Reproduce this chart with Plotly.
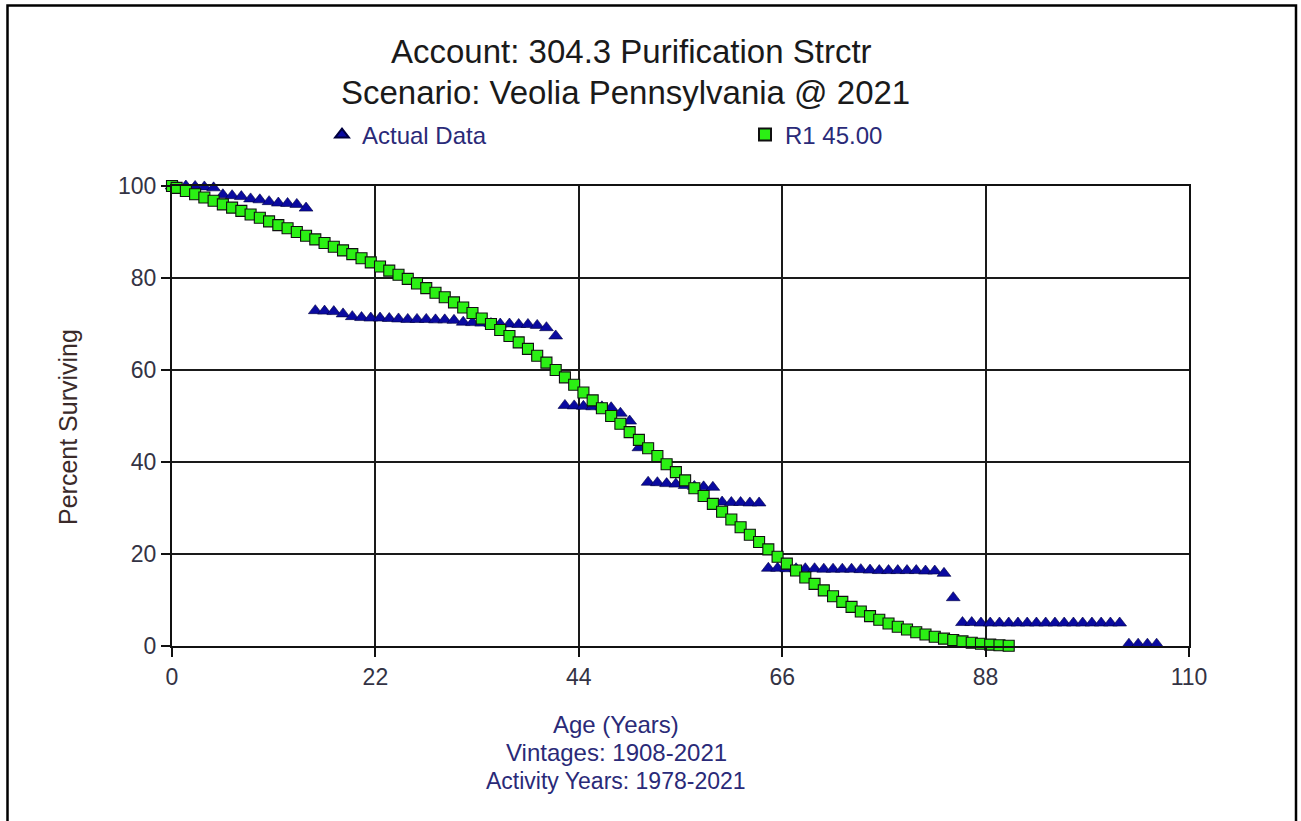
import plotly.graph_objects as go

# ---------------- data ----------------
actual_age = [0, 0.5, 1.5, 2.5, 3.5, 4.5, 5.5, 6.5, 7.5, 8.5, 9.5, 10.5, 11.5, 12.5, 13.5, 14.5,
              15.5, 16.5, 17.5, 18.5, 19.5, 20.5, 21.5, 22.5, 23.5, 24.5, 25.5, 26.5, 27.5, 28.5, 29.5, 30.5,
              31.5, 32.5, 33.5, 34.5, 35.5, 36.5, 37.5, 38.5, 39.5, 40.5, 41.5,
              42.5, 43.5, 44.5, 45.5, 46.5, 47.5, 48.5, 49.5, 50.5,
              51.5, 52.5, 53.5, 54.5, 55.5, 56.5, 57.5, 58.5,
              59.5, 60.5, 61.5, 62.5, 63.5,
              64.5, 65.5, 66.5, 67.5, 68.5, 69.5, 70.5, 71.5, 72.5, 73.5, 74.5, 75.5, 76.5, 77.5, 78.5,
              79.5, 80.5, 81.5, 82.5, 83.5,
              84.5,
              85.5, 86.5, 87.5, 88.5, 89.5, 90.5, 91.5, 92.5, 93.5, 94.5, 95.5, 96.5, 97.5, 98.5, 99.5,
              100.5, 101.5, 102.5,
              103.5, 104.5, 105.5, 106.5]
actual_pct = [100.0, 100.0, 100.0, 99.9, 99.8, 99.6, 98.1, 97.9, 97.7, 97.2, 97.0, 96.6, 96.3, 96.2, 96.0, 95.2,
              72.9, 72.8, 72.7, 72.2, 71.6, 71.4, 71.3, 71.3, 71.2, 71.1, 71.0, 71.0, 71.0, 70.9, 70.9, 70.8,
              70.4, 70.3, 70.2, 70.1, 70.0, 70.0, 69.9, 69.9, 69.7, 69.2, 67.4,
              52.3, 52.2, 52.1, 52.0, 52.0, 51.8, 50.6, 48.9, 43.1,
              35.6, 35.5, 35.3, 35.2, 34.9, 34.7, 34.6, 34.5,
              31.3, 31.2, 31.2, 31.1, 31.1,
              16.9, 16.9, 16.8, 16.8, 16.8, 16.8, 16.7, 16.7, 16.7, 16.7, 16.6, 16.5, 16.4, 16.4, 16.4,
              16.4, 16.4, 16.3, 16.3, 15.8,
              10.5,
              5.1, 5.1, 5.0, 5.0, 5.0, 5.0, 5.0, 5.0, 5.0, 5.0, 5.0, 5.0, 5.0, 5.0, 5.0,
              5.0, 5.0, 5.0,
              0.4, 0.4, 0.4, 0.4]

r1_age = [0, 0.5, 1.5, 2.5, 3.5, 4.5, 5.5, 6.5, 7.5, 8.5, 9.5, 10.5, 11.5, 12.5, 13.5, 14.5,
          15.5, 16.5, 17.5, 18.5, 19.5, 20.5, 21.5, 22.5, 23.5, 24.5, 25.5, 26.5, 27.5, 28.5, 29.5,
          30.5, 31.5, 32.5, 33.5, 34.5, 35.5, 36.5, 37.5, 38.5, 39.5, 40.5, 41.5, 42.5, 43.5, 44.5,
          45.5, 46.5, 47.5, 48.5, 49.5, 50.5, 51.5, 52.5, 53.5, 54.5, 55.5, 56.5, 57.5, 58.5, 59.5,
          60.5, 61.5, 62.5, 63.5, 64.5, 65.5, 66.5, 67.5, 68.5, 69.5, 70.5, 71.5, 72.5, 73.5, 74.5,
          75.5, 76.5, 77.5, 78.5, 79.5, 80.5, 81.5, 82.5, 83.5, 84.5, 85.5, 86.5, 87.5, 88.5, 89.5,
          90.5]
r1_pct = [100.0, 99.6, 98.9, 98.2, 97.5, 96.8, 96.0, 95.3, 94.6, 93.8, 93.1, 92.3, 91.5, 90.8, 90.0, 89.2,
          88.4, 87.6, 86.8, 86.0, 85.2, 84.3, 83.4, 82.5, 81.6, 80.7, 79.8, 78.8, 77.8, 76.8, 75.8,
          74.7, 73.6, 72.4, 71.2, 70.0, 68.7, 67.4, 66.0, 64.6, 63.1, 61.6, 60.0, 58.4, 56.8, 55.1,
          53.4, 51.7, 50.0, 48.3, 46.5, 44.8, 43.0, 41.3, 39.5, 37.8, 36.0, 34.3, 32.6, 30.9, 29.2,
          27.5, 25.8, 24.2, 22.6, 21.0, 19.4, 17.9, 16.4, 14.9, 13.5, 12.1, 10.8, 9.6, 8.5, 7.5,
          6.5, 5.7, 4.9, 4.2, 3.6, 3.0, 2.5, 2.0, 1.6, 1.3, 1.0, 0.7, 0.5, 0.3, 0.15,
          0.05]

x_ticks = [0, 22, 44, 66, 88, 110]
y_ticks = [0, 20, 40, 60, 80, 100]

title_lines = ["Account: 304.3 Purification Strctr", "Scenario: Veolia Pennsylvania @ 2021"]
x_title_lines = ["Age (Years)", "Vintages: 1908-2021", "Activity Years: 1978-2021"]
y_title = "Percent Surviving"
series_names = ["Actual Data", "R1 45.00"]

# ---------------- figure ----------------
W, H = 1301, 821
L, R, T, B = 172, 1301 - 1189, 186, 821 - 646
pw, ph = W - L - R, H - T - B

def px_to_paper_x(px):
    return (px - L) / pw

def px_to_paper_y(py):
    return (H - B - py) / ph

FONT = "Liberation Sans, Arial, sans-serif"
NAVY = "#2a2a78"

fig = go.Figure()
fig.add_trace(go.Scatter(
    x=actual_age, y=actual_pct, mode="markers", name=series_names[0],
    marker=dict(symbol="triangle-up", size=12, color="#0a0aa0",
                line=dict(color="#000040", width=0.6)),
    cliponaxis=False,
))
fig.add_trace(go.Scatter(
    x=r1_age, y=r1_pct, mode="markers", name=series_names[1],
    marker=dict(symbol="square", size=11, color="#2bf014",
                line=dict(color="#101010", width=1.1)),
    cliponaxis=False,
))

axis_common = dict(
    showline=True, linecolor="#111111", linewidth=2, mirror=True,
    showgrid=True, gridcolor="#1a1a1a", gridwidth=1.8,
    ticks="outside", ticklen=9, tickcolor="#111111", tickwidth=1.5,
    zeroline=False,
    tickfont=dict(family=FONT, size=23, color="#333344"),
)
fig.update_xaxes(range=[0, 110], tickvals=x_ticks, ticktext=[str(v) for v in x_ticks], **axis_common)
fig.update_yaxes(range=[0, 100], tickvals=y_ticks, ticktext=[str(v) for v in y_ticks], **axis_common)

annotations = [
    dict(text=title_lines[0], x=px_to_paper_x(631), y=px_to_paper_y(52), xref="paper", yref="paper",
         showarrow=False, xanchor="center", yanchor="middle",
         font=dict(family=FONT, size=33, color="#1a1a1a")),
    dict(text=title_lines[1], x=px_to_paper_x(625), y=px_to_paper_y(92), xref="paper", yref="paper",
         showarrow=False, xanchor="center", yanchor="middle",
         font=dict(family=FONT, size=33, color="#1a1a1a")),
    dict(text=y_title, x=px_to_paper_x(68), y=px_to_paper_y(427), xref="paper", yref="paper",
         showarrow=False, xanchor="center", yanchor="middle", textangle=-90,
         font=dict(family=FONT, size=25, color="#3a2a2a")),
]
for txt, cy, sz in zip(x_title_lines, [724, 752, 781], [24, 24, 23]):
    annotations.append(dict(text=txt, x=px_to_paper_x(616), y=px_to_paper_y(cy), xref="paper", yref="paper",
                            showarrow=False, xanchor="center", yanchor="middle",
                            font=dict(family=FONT, size=sz, color=NAVY)))

shapes = [dict(type="rect", xref="paper", yref="paper",
               x0=px_to_paper_x(7.5), x1=px_to_paper_x(1296), y0=px_to_paper_y(835), y1=px_to_paper_y(5.5),
               line=dict(color="#000000", width=2.5), fillcolor="rgba(0,0,0,0)", layer="below")]

fig.update_layout(
    width=W, height=H,
    margin=dict(l=L, r=R, t=T, b=B, pad=0),
    paper_bgcolor="white", plot_bgcolor="white",
    showlegend=True,
    legend=dict(orientation="h", x=px_to_paper_x(322), y=px_to_paper_y(135),
                xanchor="left", yanchor="middle",
                entrywidth=378, entrywidthmode="pixels",
                font=dict(family=FONT, size=24, color=NAVY),
                bgcolor="rgba(0,0,0,0)", itemsizing="constant"),
    annotations=annotations,
    shapes=shapes,
)

fig.write_html("out.html")
